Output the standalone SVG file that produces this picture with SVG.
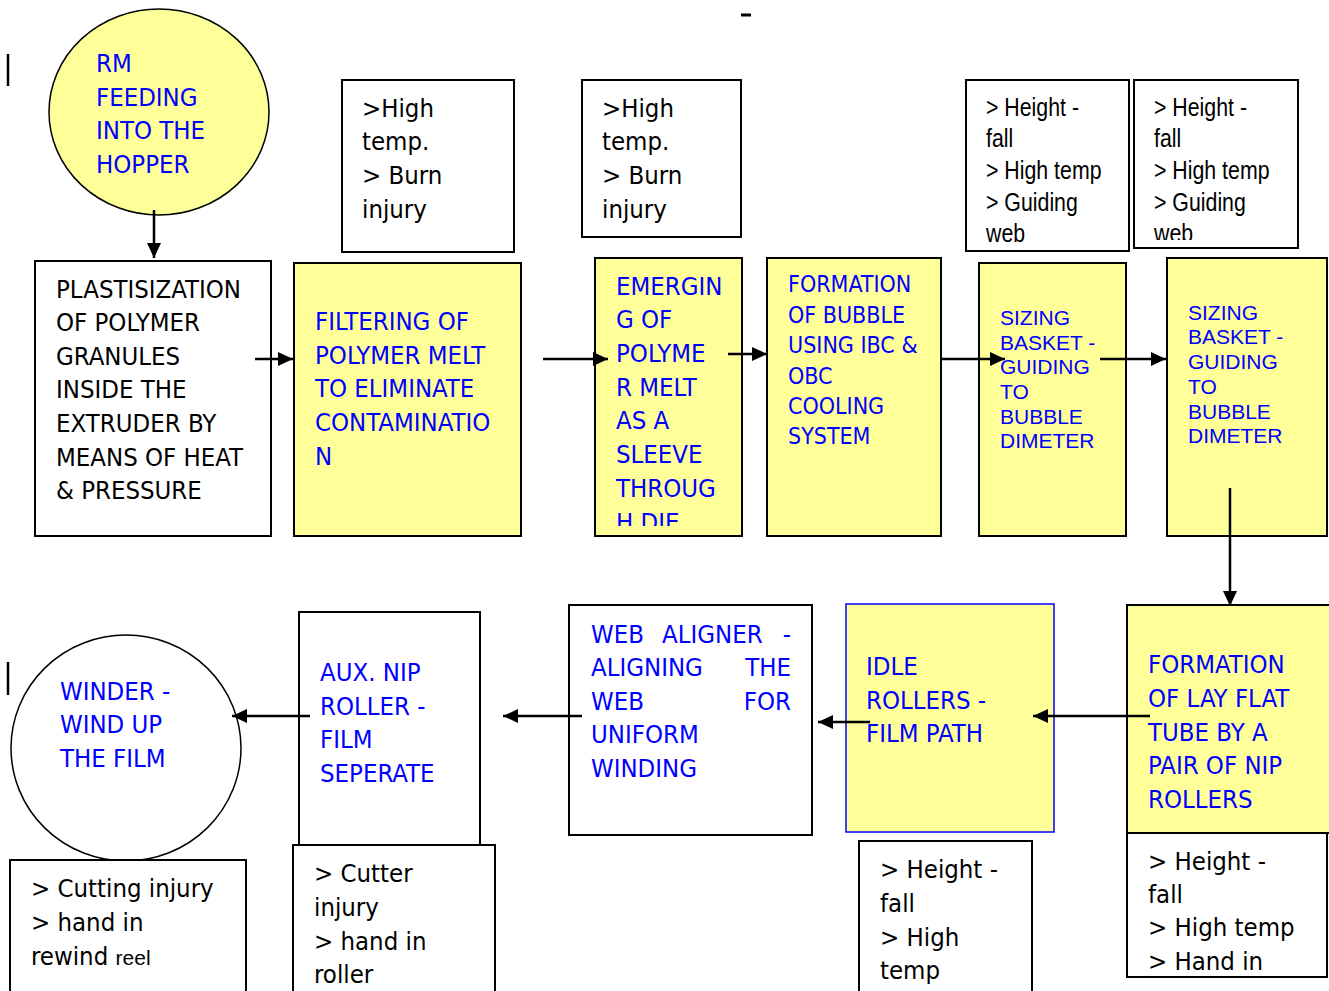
<svg xmlns="http://www.w3.org/2000/svg" width="1329" height="991" viewBox="0 0 1329 991">
<style>
.bx{stroke:#000;stroke-width:2}
.y{fill:#FFFF99}
.w{fill:#fff}
.t{font-family:"DejaVu Sans Condensed","DejaVu Sans",sans-serif;font-size:25.5px}
.tc{font-family:"DejaVu Sans Condensed","DejaVu Sans",sans-serif;font-size:23px}
.a{font-family:"Liberation Sans",Arial,sans-serif;font-size:21px}
.n{font-family:"Liberation Sans",Arial,sans-serif;font-size:26px}
.b{fill:#0000FF}
.k{fill:#000}
.c{stroke:#000;stroke-width:2.5;fill:none}
</style>
<defs>
<marker id="ah" markerUnits="userSpaceOnUse" markerWidth="16" markerHeight="16" viewBox="0 0 16 16" refX="15" refY="8" orient="auto">
<path d="M0,1 L15,8 L0,15 Z" fill="#000"/>
</marker>
<clipPath id="clipE"><rect x="596" y="259" width="145" height="267"/></clipPath>
<clipPath id="clipH2"><rect x="-30" y="81" width="200" height="159"/></clipPath>
</defs>
<rect width="1329" height="991" fill="#fff"/>
<g id="marks">
<line x1="741" y1="15" x2="751" y2="15" stroke="#000" stroke-width="3"/>
<line x1="8" y1="54" x2="8" y2="86" stroke="#000" stroke-width="2.5"/>
<line x1="8" y1="662" x2="8" y2="695" stroke="#000" stroke-width="2.5"/>
</g>
<g id="rm">
<ellipse cx="159" cy="112" rx="110" ry="103" class="y" stroke="#000" stroke-width="1.5"/>
<text class="t b"><tspan x="96" y="72">RM</tspan><tspan x="96" y="106">FEEDING</tspan><tspan x="96" y="139">INTO THE</tspan><tspan x="96" y="173">HOPPER</tspan></text>
</g>
<g id="plast">
<rect x="35" y="261" width="236" height="275" class="bx w"/>
<text class="t k"><tspan x="56" y="298">PLASTISIZATION</tspan><tspan x="56" y="331">OF POLYMER</tspan><tspan x="56" y="365">GRANULES</tspan><tspan x="56" y="398">INSIDE THE</tspan><tspan x="56" y="432">EXTRUDER BY</tspan><tspan x="56" y="466">MEANS OF HEAT</tspan><tspan x="56" y="499">&amp; PRESSURE</tspan></text>
</g>
<g id="filter">
<rect x="294" y="263" width="227" height="273" class="bx y"/>
<text class="t b"><tspan x="315" y="330">FILTERING OF</tspan><tspan x="315" y="364">POLYMER MELT</tspan><tspan x="315" y="397">TO ELIMINATE</tspan><tspan x="315" y="431">CONTAMINATIO</tspan><tspan x="315" y="465">N</tspan></text>
</g>
<g id="haz1">
<rect x="342" y="80" width="172" height="172" class="bx w"/>
<text class="t k"><tspan x="362" y="117">&gt;High</tspan><tspan x="362" y="150">temp.</tspan><tspan x="362" y="184">&gt; Burn</tspan><tspan x="362" y="218">injury</tspan></text>
</g>
<g id="haz2">
<rect x="582" y="80" width="159" height="157" class="bx w"/>
<text class="t k"><tspan x="602" y="117">&gt;High</tspan><tspan x="602" y="150">temp.</tspan><tspan x="602" y="184">&gt; Burn</tspan><tspan x="602" y="218">injury</tspan></text>
</g>
<g id="emerg">
<rect x="595" y="258" width="147" height="278" class="bx y"/>
<text class="t b" clip-path="url(#clipE)"><tspan x="616" y="295">EMERGIN</tspan><tspan x="616" y="328">G OF</tspan><tspan x="616" y="362">POLYME</tspan><tspan x="616" y="396">R MELT</tspan><tspan x="616" y="429">AS A</tspan><tspan x="616" y="463">SLEEVE</tspan><tspan x="616" y="497">THROUG</tspan><tspan x="616" y="531">H DIE</tspan></text>
</g>
<g id="bubble">
<rect x="767" y="258" width="174" height="278" class="bx y"/>
<text class="tc b"><tspan x="788" y="292">FORMATION</tspan><tspan x="788" y="323">OF BUBBLE</tspan><tspan x="788" y="353">USING IBC &amp;</tspan><tspan x="788" y="384">OBC</tspan><tspan x="788" y="414">COOLING</tspan><tspan x="788" y="444">SYSTEM</tspan></text>
</g>
<g id="sizing1">
<rect x="979" y="263" width="147" height="273" class="bx y"/>
<text class="a b"><tspan x="1000" y="325">SIZING</tspan><tspan x="1000" y="350">BASKET -</tspan><tspan x="1000" y="374">GUIDING</tspan><tspan x="1000" y="399">TO</tspan><tspan x="1000" y="424">BUBBLE</tspan><tspan x="1000" y="448">DIMETER</tspan></text>
</g>
<g id="sizing2">
<rect x="1167" y="258" width="160" height="278" class="bx y"/>
<text class="a b"><tspan x="1188" y="320">SIZING</tspan><tspan x="1188" y="344">BASKET -</tspan><tspan x="1188" y="369">GUIDING</tspan><tspan x="1188" y="394">TO</tspan><tspan x="1188" y="419">BUBBLE</tspan><tspan x="1188" y="443">DIMETER</tspan></text>
</g>
<g id="haz3">
<rect x="966" y="80" width="163" height="171" class="bx w"/>
<g transform="translate(986,0) scale(0.82,1)">
<text class="n k"><tspan x="0" y="116">&gt; Height -</tspan><tspan x="0" y="147">fall</tspan><tspan x="0" y="179">&gt; High temp</tspan><tspan x="0" y="211">&gt; Guiding</tspan><tspan x="0" y="242">web</tspan></text>
</g>
</g>
<g id="haz4">
<rect x="1134" y="80" width="164" height="168" class="bx w"/>
<g transform="translate(1154,0) scale(0.82,1)">
<text class="n k" clip-path="url(#clipH2)"><tspan x="0" y="116">&gt; Height -</tspan><tspan x="0" y="147">fall</tspan><tspan x="0" y="179">&gt; High temp</tspan><tspan x="0" y="211">&gt; Guiding</tspan><tspan x="0" y="242">web</tspan></text>
</g>
</g>
<g id="layflat">
<rect x="1127" y="605" width="204" height="228" class="bx y"/>
<text class="t b"><tspan x="1148" y="673">FORMATION</tspan><tspan x="1148" y="707">OF LAY FLAT</tspan><tspan x="1148" y="741">TUBE BY A</tspan><tspan x="1148" y="774">PAIR OF NIP</tspan><tspan x="1148" y="808">ROLLERS</tspan></text>
</g>
<g id="haz5">
<rect x="1127" y="833" width="200" height="144" class="bx w"/>
<text class="t k"><tspan x="1148" y="870">&gt; Height -</tspan><tspan x="1148" y="903">fall</tspan><tspan x="1148" y="936">&gt; High temp</tspan><tspan x="1148" y="970">&gt; Hand in</tspan></text>
</g>
<g id="idle">
<rect x="846" y="604" width="208" height="228" class="y" stroke="#0000FF" stroke-width="1.5"/>
<text class="t b"><tspan x="866" y="675">IDLE</tspan><tspan x="866" y="709">ROLLERS -</tspan><tspan x="866" y="742">FILM PATH</tspan></text>
</g>
<g id="haz6">
<rect x="859" y="841" width="173" height="155" class="bx w"/>
<text class="t k"><tspan x="880" y="878">&gt; Height -</tspan><tspan x="880" y="912">fall</tspan><tspan x="880" y="946">&gt; High</tspan><tspan x="880" y="979">temp</tspan></text>
</g>
<g id="webal">
<rect x="569" y="605" width="243" height="230" class="bx w"/>
<text class="t b"><tspan x="591" y="643">WEB</tspan><tspan x="662" y="643">ALIGNER</tspan><tspan x="791" y="643" text-anchor="end">-</tspan><tspan x="591" y="676">ALIGNING</tspan><tspan x="791" y="676" text-anchor="end">THE</tspan><tspan x="591" y="710">WEB</tspan><tspan x="791" y="710" text-anchor="end">FOR</tspan><tspan x="591" y="743">UNIFORM</tspan><tspan x="591" y="777">WINDING</tspan></text>
</g>
<g id="auxnip">
<rect x="299" y="612" width="181" height="236" class="bx w"/>
<text class="t b"><tspan x="320" y="681">AUX. NIP</tspan><tspan x="320" y="715">ROLLER -</tspan><tspan x="320" y="748">FILM</tspan><tspan x="320" y="782">SEPERATE</tspan></text>
</g>
<g id="haz7">
<rect x="293" y="845" width="202" height="151" class="bx w"/>
<text class="t k"><tspan x="314" y="882">&gt; Cutter</tspan><tspan x="314" y="916">injury</tspan><tspan x="314" y="950">&gt; hand in</tspan><tspan x="314" y="983">roller</tspan></text>
</g>
<g id="winder">
<ellipse cx="126" cy="748" rx="115" ry="113" fill="#fff" stroke="#000" stroke-width="1.5"/>
<text class="t b"><tspan x="60" y="700">WINDER -</tspan><tspan x="60" y="733">WIND UP</tspan><tspan x="60" y="767">THE FILM</tspan></text>
</g>
<g id="haz8">
<rect x="10" y="860" width="236" height="136" class="bx w"/>
<text class="t k"><tspan x="31" y="897">&gt; Cutting injury</tspan><tspan x="31" y="931">&gt; hand in</tspan><tspan x="31" y="965">rewind <tspan class="a">reel</tspan></tspan></text>
</g>
<g id="connectors">
<line x1="154" y1="210" x2="154" y2="258" class="c" marker-end="url(#ah)"/>
<line x1="255" y1="359" x2="293" y2="359" class="c" marker-end="url(#ah)"/>
<line x1="543" y1="359" x2="608" y2="359" class="c" marker-end="url(#ah)"/>
<line x1="728" y1="354" x2="767" y2="354" class="c" marker-end="url(#ah)"/>
<line x1="940" y1="359" x2="1005" y2="359" class="c" marker-end="url(#ah)"/>
<line x1="1100" y1="359" x2="1166" y2="359" class="c" marker-end="url(#ah)"/>
<line x1="1230" y1="488" x2="1230" y2="606" class="c" marker-end="url(#ah)"/>
<line x1="1150" y1="716" x2="1033" y2="716" class="c" marker-end="url(#ah)"/>
<line x1="870" y1="722" x2="818" y2="722" class="c" marker-end="url(#ah)"/>
<line x1="582" y1="716" x2="503" y2="716" class="c" marker-end="url(#ah)"/>
<line x1="310" y1="716" x2="232" y2="716" class="c" marker-end="url(#ah)"/>
</g>
</svg>
